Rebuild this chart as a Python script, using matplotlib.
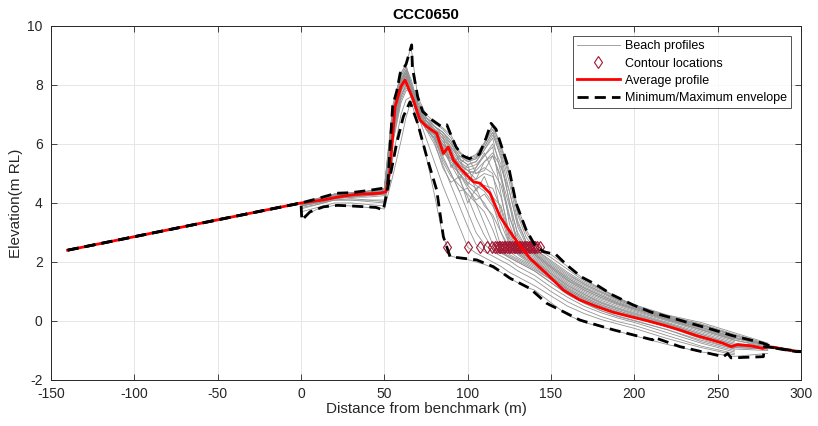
import numpy as np
import matplotlib
matplotlib.use('Agg')
import matplotlib.pyplot as plt

nan = np.nan

# Common chainage for the individual surveyed profiles
x_grid = [0, 10, 20, 30, 40, 50, 55, 60, 63, 66, 70, 75, 80, 85, 90, 95, 100, 105, 110,
          115, 120, 125, 130, 135, 140, 150, 160, 170, 180, 190, 200, 220, 240, 260, 280]

# Beach profiles (elevation at each x_grid point)
profiles = [
    [3.5, 3.8, 3.92, 3.9, 3.85, 3.8, 4.9, 6.1, 6.9, 7.45, 6.7, 5.6, 4.3, 2.9, 2.2, 2.12, 2.08, 2.0, 1.92, 1.8, 1.65, 1.45, 1.3, 1.15, 1.05, 0.62, 0.2, -0.05, -0.2, -0.35, -0.5, -0.8, -1.05, -1.2, -1.1],
    [3.7, 3.85, 4.0, 4.0, 3.95, 3.9, 5.5, 7.0, 7.5, 7.6, 7.0, 6.2, 5.4, 4.6, 3.9, 3.2, 2.5, 2.3, 2.15, 2.0, 1.85, 1.65, 1.5, 1.35, 1.2, 0.85, 0.5, 0.25, 0.05, -0.1, -0.25, -0.6, -0.9, -1.15, nan],
    [3.9, 4.0, 4.1, 4.15, 4.1, 4.05, 6.0, 7.4, 7.8, 7.9, 7.2, 6.5, 6.0, 5.3, 4.6, 3.9, 3.2, 2.6, 2.35, 2.2, 2.05, 1.9, 1.7, 1.55, 1.4, 1.0, 0.65, 0.38, 0.15, -0.02, -0.15, -0.5, -0.85, -1.1, nan],
    [4.0, 4.1, 4.2, 4.2, 4.25, 4.3, 6.3, 7.6, 8.0, 7.8, 7.1, 6.6, 6.2, 5.6, 5.0, 4.4, 3.7, 3.0, 2.6, 2.35, 2.2, 2.05, 1.85, 1.7, 1.55, 1.15, 0.8, 0.5, 0.28, 0.1, -0.05, -0.4, -0.75, -1.05, nan],
    [3.95, 4.05, 4.2, 4.25, 4.3, 4.35, 6.6, 7.8, 8.2, 7.7, 7.0, 6.6, 6.3, 5.8, 5.3, 4.8, 4.2, 3.5, 2.9, 2.45, 2.3, 2.15, 2.0, 1.85, 1.7, 1.3, 0.9, 0.6, 0.35, 0.17, 0.02, -0.3, -0.65, -0.95, -1.0],
    [4.0, 4.1, 4.25, 4.3, 4.35, 4.4, 6.9, 8.0, 8.3, 7.8, 7.1, 6.7, 6.4, 5.9, 5.5, 5.0, 4.5, 4.0, 3.3, 2.6, 2.35, 2.2, 2.05, 1.9, 1.75, 1.4, 1.0, 0.7, 0.45, 0.25, 0.1, -0.2, -0.55, -0.9, -0.95],
    [3.9, 4.05, 4.2, 4.25, 4.3, 4.35, 6.4, 7.8, 8.1, 7.6, 6.9, 6.5, 6.2, 5.4, 4.9, 4.6, 4.3, 4.0, 3.7, 3.1, 2.35, 2.15, 2.0, 1.85, 1.7, 1.3, 0.9, 0.6, 0.35, 0.15, 0.0, -0.3, -0.7, -1.0, nan],
    [4.0, 4.1, 4.2, 4.3, 4.3, 4.35, 6.5, 7.9, 8.2, 7.7, 7.0, 6.6, 6.4, 5.9, 5.3, 5.0, 4.6, 4.3, 4.0, 3.5, 2.5, 2.25, 2.1, 1.95, 1.8, 1.4, 1.0, 0.7, 0.45, 0.25, 0.1, -0.2, -0.6, -0.95, nan],
    [3.95, 4.1, 4.2, 4.25, 4.3, 4.3, 6.6, 8.0, 8.3, 7.8, 7.1, 6.7, 6.4, 6.0, 5.6, 5.2, 4.9, 4.6, 4.4, 4.0, 3.0, 2.35, 2.15, 2.0, 1.85, 1.45, 1.05, 0.75, 0.5, 0.3, 0.15, -0.15, -0.55, -0.9, -0.95],
    [4.0, 4.15, 4.3, 4.3, 4.35, 4.45, 7.0, 8.2, 8.5, 8.0, 7.3, 6.8, 6.5, 6.1, 5.7, 5.3, 5.1, 5.0, 5.2, 5.0, 3.6, 2.6, 2.3, 2.1, 1.95, 1.5, 1.1, 0.8, 0.55, 0.35, 0.18, -0.12, -0.5, -0.85, -0.9],
    [3.8, 3.95, 4.1, 4.1, 4.05, 4.0, 6.2, 7.6, 8.0, 7.9, 7.2, 6.6, 6.3, 6.0, 5.4, 5.0, 4.7, 4.5, 4.6, 4.5, 3.8, 2.7, 2.35, 2.15, 2.0, 1.55, 1.15, 0.85, 0.6, 0.4, 0.22, -0.1, -0.45, -0.8, nan],
    [4.0, 4.1, 4.2, 4.3, 4.35, 4.4, 6.8, 8.1, 8.4, 7.9, 7.2, 6.7, 6.5, 6.2, 5.8, 5.4, 5.2, 5.3, 5.6, 5.9, 4.3, 2.8, 2.4, 2.2, 2.05, 1.6, 1.2, 0.9, 0.65, 0.45, 0.28, -0.05, -0.4, -0.75, -0.88],
    [3.9, 4.0, 4.15, 4.2, 4.25, 4.3, 6.5, 7.9, 8.2, 7.7, 7.0, 6.6, 6.3, 5.7, 5.5, 5.1, 4.8, 4.8, 5.0, 4.9, 4.2, 3.0, 2.45, 2.25, 2.1, 1.65, 1.25, 0.95, 0.7, 0.5, 0.32, 0.0, -0.35, -0.7, nan],
    [4.0, 4.1, 4.25, 4.3, 4.35, 4.4, 6.9, 8.1, 8.5, 8.0, 7.3, 6.8, 6.5, 6.2, 5.9, 5.5, 5.3, 5.4, 5.8, 6.2, 5.0, 3.3, 2.5, 2.3, 2.15, 1.7, 1.3, 1.0, 0.75, 0.55, 0.36, 0.02, -0.3, -0.65, -0.85],
    [3.95, 4.05, 4.2, 4.25, 4.3, 4.35, 6.6, 8.0, 8.3, 7.8, 7.1, 6.7, 6.4, 5.8, 5.6, 5.2, 5.0, 5.1, 5.4, 5.6, 4.8, 3.6, 2.6, 2.35, 2.2, 1.75, 1.35, 1.05, 0.8, 0.58, 0.4, 0.05, -0.28, -0.62, nan],
    [4.0, 4.15, 4.3, 4.3, 4.4, 4.45, 7.1, 8.3, 8.6, 8.1, 7.4, 6.9, 6.6, 6.3, 6.0, 5.6, 5.4, 5.5, 5.9, 6.4, 5.5, 4.0, 2.5, 2.4, 2.25, 1.8, 1.4, 1.1, 0.85, 0.62, 0.44, 0.08, -0.25, -0.6, -0.8],
    [3.95, 4.1, 4.2, 4.3, 4.3, 4.4, 6.7, 8.0, 8.4, 7.9, 7.1, 6.7, 6.4, 6.1, 5.7, 5.3, 5.1, 5.2, 5.6, 6.0, 5.3, 4.1, 2.9, 2.45, 2.3, 1.85, 1.45, 1.15, 0.9, 0.66, 0.47, 0.12, -0.2, -0.55, -0.8],
    [4.0, 4.1, 4.25, 4.3, 4.35, 4.45, 6.9, 8.2, 8.5, 8.0, 7.2, 6.8, 6.5, 6.3, 5.9, 5.5, 5.3, 5.4, 5.8, 6.3, 5.6, 4.4, 3.2, 2.6, 2.35, 1.9, 1.5, 1.2, 0.95, 0.7, 0.5, 0.15, -0.15, -0.5, nan],
    [3.95, 4.05, 4.2, 4.25, 4.3, 4.4, 6.8, 8.1, 8.4, 8.0, 7.3, 6.8, 6.6, 6.4, 6.0, 5.6, 5.4, 5.5, 5.9, 6.4, 5.7, 4.7, 3.4, 2.7, 2.4, 1.95, 1.55, 1.25, 1.0, 0.75, 0.53, 0.18, -0.1, -0.45, -0.78],
    [4.0, 4.15, 4.3, 4.35, 4.4, 4.45, 7.1, 8.3, 8.6, 8.2, 7.4, 6.9, 6.6, 6.4, 6.1, 5.7, 5.45, 5.55, 6.0, 6.5, 5.8, 4.9, 3.6, 2.85, 2.45, 2.05, 1.65, 1.3, 1.05, 0.78, 0.55, 0.2, -0.05, -0.4, -0.75],
    [4.0, 4.1, 4.3, 4.3, 4.4, 4.5, 7.2, 8.4, 8.7, 8.0, 7.5, 6.9, 6.7, 6.5, 6.2, 5.7, 5.5, 5.6, 6.0, 6.6, 5.9, 5.0, 3.7, 3.0, 2.5, 2.15, 1.75, 1.35, 1.08, 0.8, 0.5, 0.1, -0.15, -0.5, -0.82],
    [4.0, 4.15, 4.3, 4.35, 4.4, 4.5, 7.3, 8.4, 8.7, 9.3, 7.6, 7.0, 6.75, 6.55, 6.3, 5.75, 5.5, 5.65, 6.05, 6.65, 5.95, 5.1, 3.85, 3.1, 2.6, 2.25, 1.85, 1.4, 1.1, 0.8, 0.5, 0.05, -0.2, -0.55, -0.85],
    [3.9, 4.0, 4.15, 4.2, 4.2, 4.25, 6.3, 7.7, 8.0, 7.7, 7.0, 6.7, 6.3, 5.6, 5.9, 4.8, 5.3, 4.4, 4.9, 4.2, 3.9, 2.9, 2.4, 2.2, 2.05, 1.6, 1.2, 0.9, 0.62, 0.42, 0.25, -0.08, -0.45, -0.8, nan],
    [4.0, 4.1, 4.2, 4.25, 4.3, 4.35, 6.7, 8.0, 8.3, 7.9, 7.2, 6.8, 6.5, 6.3, 5.2, 5.6, 4.6, 5.2, 5.7, 5.1, 4.6, 3.5, 2.8, 2.45, 2.25, 1.8, 1.38, 1.05, 0.8, 0.58, 0.4, 0.05, -0.3, -0.65, -0.9],
    [3.85, 3.95, 4.1, 4.1, 4.1, 4.1, 6.1, 7.5, 7.9, 7.7, 6.9, 6.6, 6.1, 5.2, 4.7, 4.9, 4.0, 4.5, 3.9, 3.6, 3.0, 2.5, 2.25, 2.05, 1.9, 1.45, 1.05, 0.75, 0.5, 0.3, 0.12, -0.2, -0.55, -0.9, nan],
    [4.0, 4.1, 4.25, 4.3, 4.35, 4.45, 6.9, 8.2, 8.5, 8.0, 7.3, 6.9, 6.6, 6.4, 6.1, 5.4, 5.1, 4.8, 5.4, 5.7, 5.2, 4.4, 3.3, 2.7, 2.45, 2.0, 1.6, 1.25, 0.98, 0.72, 0.5, 0.15, -0.12, -0.48, -0.8],
    [3.9, 4.05, 4.15, 4.2, 4.25, 4.3, 6.4, 7.8, 8.1, 7.7, 7.0, 6.5, 6.2, 5.5, 5.0, 4.4, 4.5, 4.1, 4.3, 3.9, 3.3, 2.6, 2.3, 2.1, 1.95, 1.5, 1.1, 0.8, 0.55, 0.35, 0.18, -0.15, -0.5, -0.85, -0.95],
    [4.0, 4.1, 4.2, 4.3, 4.35, 4.4, 6.8, 8.1, 8.4, 7.9, 7.2, 6.8, 6.4, 6.0, 5.7, 5.3, 5.6, 5.0, 5.1, 5.6, 4.9, 3.9, 3.0, 2.5, 2.3, 1.85, 1.45, 1.12, 0.86, 0.62, 0.43, 0.1, -0.22, -0.58, -0.85],
]

# Where each profile crosses the 2.5 m contour
contour_x = [87.5, 100.4, 107.4, 111.4, 114.4, 116.4, 117.5, 118.5, 119.5, 120.5, 121.5,
             122.5, 123.5, 124.5, 125.5, 126.5, 127.5, 128.5, 129.5, 130.5, 131.5, 132.5,
             133.5, 134.5, 135.5, 136.5, 137.5, 138.5, 139.5, 140.5, 141.5, 143.4]
contour_level = 2.5

# Average profile
avg_x = [-140, 0, 13, 23, 33, 47, 51, 53.4, 56.4, 60, 62.4, 67.4, 71.4, 75.4, 81.4, 85.4, 88.4,
         91.4, 96.4, 103.4, 107.4, 113.4, 119.4, 127.4, 137.4, 147.4, 157.4, 167, 177.4, 187,
         197.4, 207, 217.4, 227, 237.4, 247, 253, 258, 262, 265, 270, 277, 280, 285, 291, 300]
avg_y = [2.4, 4.0, 4.1, 4.21, 4.29, 4.33, 4.38, 5.1, 7.26, 7.95, 8.17, 7.49, 6.81, 6.59, 6.36,
         5.68, 5.9, 5.46, 5.12, 4.72, 4.67, 4.33, 3.54, 2.86, 2.12, 1.6, 1.05, 0.72, 0.49, 0.3,
         0.15, 0.02, -0.14, -0.3, -0.5, -0.65, -0.75, -0.87, -0.8, -0.82, -0.84, -0.93, -0.87,
         -0.9, -0.98, -1.04]

# Maximum envelope
max_x = [-140, 0, 10, 21, 30, 40, 49, 52, 55, 57.5, 59.5, 63, 66.4, 66.8, 70, 73, 79, 84, 87.5,
         90, 93, 97, 101, 107, 111, 114, 117, 121, 125, 129, 135, 140, 145.4, 153, 159.4, 168,
         177.4, 187, 199.4, 210, 223.4, 235, 247.4, 259, 269.4, 277, 285.4, 297.4, 300]
max_y = [2.4, 4.0, 4.15, 4.33, 4.35, 4.42, 4.5, 4.6, 7.3, 7.8, 8.4, 8.7, 9.36, 8.6, 7.6, 7.1,
         6.8, 6.6, 6.65, 6.3, 5.9, 5.6, 5.5, 5.65, 6.2, 6.7, 6.5, 5.8, 5.1, 4.0, 3.1, 2.6, 2.35,
         2.25, 1.9, 1.5, 1.22, 0.88, 0.54, 0.3, 0.09, -0.1, -0.3, -0.5, -0.64, -0.75, -0.93,
         -1.04, -1.04]

# Minimum envelope
min_x = [-140, 0, 0.5, 5.4, 13.4, 22, 30, 45, 49.4, 53.4, 57.4, 61.4, 65.4, 70, 75.4, 81.4,
         85.4, 87.4, 89.4, 105.4, 115.4, 125.4, 137.4, 147.4, 167.4, 187.4, 211, 211.5, 227.4,
         253.4, 256, 258, 277.4, 278, 283, 300]
min_y = [2.4, 4.0, 3.42, 3.7, 3.87, 3.92, 3.9, 3.85, 3.76, 4.89, 6.02, 6.93, 7.43, 6.7, 5.57,
         4.44, 2.86, 2.52, 2.18, 2.07, 1.84, 1.45, 1.1, 0.6, 0.03, -0.3, -0.64, -0.55, -0.87,
         -1.21, -1.1, -1.25, -1.21, -0.87, -0.9, -1.04]

plt.rcParams['font.family'] = ['Liberation Sans', 'DejaVu Sans']
plt.rcParams['axes.unicode_minus'] = False

fig = plt.figure(figsize=(8.18, 4.26), dpi=100)
ax = fig.add_axes([0.0623, 0.108, 0.917, 0.831])

for i, prof in enumerate(profiles):
    ax.plot(x_grid, prof, color='#939393', lw=0.6,
            label='Beach profiles' if i == 0 else None, zorder=2)

ax.plot(contour_x, [contour_level] * len(contour_x), ls='none', marker='d', ms=6.5,
        mfc='none', mec='#A2142F', mew=0.8, label='Contour locations', zorder=3)
ax.plot(avg_x, avg_y, color='#ff0000', lw=2.0, label='Average profile', zorder=4)
ax.plot(max_x, max_y, color='black', lw=2.0, ls='--', dashes=(4, 2.2),
        label='Minimum/Maximum envelope', zorder=5)
ax.plot(min_x, min_y, color='black', lw=2.0, ls='--', dashes=(4, 2.2), zorder=5)

ax.set_xlim(-150, 300)
ax.set_ylim(-2, 10)
ax.set_xticks(np.arange(-150, 301, 50))
ax.set_yticks(np.arange(-2, 11, 2))
ax.grid(True, color='#e6e6e6', lw=0.7)
ax.set_axisbelow(True)
ax.tick_params(direction='in', top=True, right=True, labelsize=10, colors='#262626',
               length=4, width=0.6)
ax.tick_params(axis='x', pad=5)
ax.tick_params(axis='y', pad=6)
for s in ax.spines.values():
    s.set_color('#262626')
    s.set_linewidth(0.7)

ax.set_title('CCC0650', fontsize=11, fontweight='bold', pad=5)
ax.set_xlabel('Distance from benchmark (m)', fontsize=11, color='#262626', labelpad=1)
ax.set_ylabel('Elevation(m RL)', fontsize=11, color='#262626', labelpad=3)

leg = ax.legend(loc='upper right', fontsize=9, frameon=True, fancybox=False,
                edgecolor='#262626', borderaxespad=0.8, handlelength=3.4,
                handletextpad=0.4, labelspacing=0.42, borderpad=0.35)
leg.get_frame().set_linewidth(0.7)

fig.savefig('out.png', dpi=100)
